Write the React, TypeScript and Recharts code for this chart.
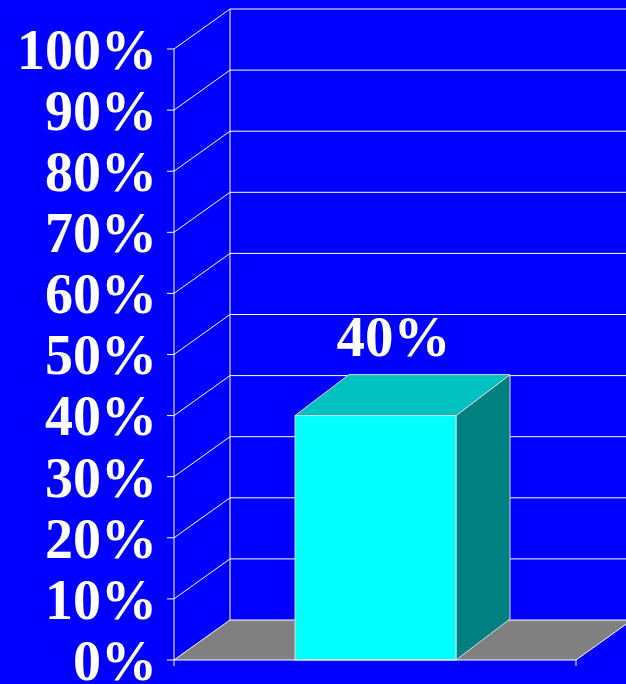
import React from 'react';
import { BarChart, Bar, XAxis, YAxis, CartesianGrid, LabelList } from 'recharts';

const categories = [''];
const shareValues = [40];
const yTicks = [0, 10, 20, 30, 40, 50, 60, 70, 80, 90, 100];

const data = categories.map((name, i) => ({ name, share: shareValues[i] }));

const BLUE = '#0000FF';
const LINE = '#FFFFFF';
const SERIF = '"Liberation Serif", "Times New Roman", serif';
const DX = 56;
const DY = -40;

const gridLine = (props: any) => {
  const { x1, y1, x2, y, height, index } = props;
  const bottom = y + height;
  const isFloor = Math.abs(y1 - bottom) < 1;
  return (
    <g key={`grid-${index}`}>
      {isFloor && (
        <polygon
          points={`${x1},${y1} ${x2},${y1} ${x2 + DX},${y1 + DY} ${x1 + DX},${y1 + DY}`}
          fill="#808080"
          stroke="none"
        />
      )}
      <line x1={x1} y1={y1} x2={x1 + DX} y2={y1 + DY} stroke={LINE} strokeWidth={1} />
      <line x1={x1 + DX} y1={y1 + DY} x2={640} y2={y1 + DY} stroke={LINE} strokeWidth={1} />
      {isFloor && (
        <>
          <line x1={x1 + DX} y1={y1 + DY} x2={x1 + DX} y2={y + DY} stroke={LINE} strokeWidth={1} />
          <line x1={x2} y1={y1} x2={x2 + DX} y2={y1 + DY} stroke={LINE} strokeWidth={1} />
          <line x1={x1} y1={y1} x2={x1} y2={y1 + 6} stroke={LINE} strokeWidth={1} />
          <line x1={x2} y1={y1} x2={x2} y2={y1 + 6} stroke={LINE} strokeWidth={1} />
        </>
      )}
    </g>
  );
};

const Bar3D = (props: any) => {
  const { x, y, width, height } = props;
  const bx = 54;
  const by = -41;
  const edge = '#D8D8D8';
  return (
    <g>
      <polygon
        points={`${x + width},${y} ${x + width + bx},${y + by} ${x + width + bx},${y + height + by} ${x + width},${y + height}`}
        fill="#008080"
        stroke={edge}
        strokeWidth={1}
      />
      <polygon
        points={`${x},${y} ${x + width},${y} ${x + width + bx},${y + by} ${x + bx},${y + by}`}
        fill="#00C0C0"
        stroke={edge}
        strokeWidth={1}
      />
      <rect x={x} y={y} width={width} height={height} fill="#00FFFF" stroke={edge} strokeWidth={1} />
    </g>
  );
};

const renderValue = (p: any) => (
  <text
    x={p.x + p.width / 2 + 18}
    y={p.y - 60}
    fill="#FFFFFF"
    fontSize={57}
    fontWeight="bold"
    fontFamily={SERIF}
    textAnchor="middle"
  >
    {p.value}%
  </text>
);

export default function App() {
  return (
    <div
      style={{
        position: 'absolute',
        left: 0,
        top: 0,
        width: 626,
        height: 684,
        background: BLUE,
        overflow: 'hidden',
      }}
    >
      <BarChart
        width={626}
        height={684}
        data={data}
        margin={{ top: 49, right: 50, bottom: 0, left: 0 }}
        barSize={161}
      >
        <CartesianGrid vertical={false} horizontal={gridLine} fill="none" />
        <XAxis
          dataKey="name"
          height={24}
          tick={false}
          tickLine={false}
          axisLine={{ stroke: LINE, strokeWidth: 1 }}
        />
        <YAxis
          width={174}
          domain={[0, 100]}
          ticks={yTicks}
          interval={0}
          tickFormatter={(v) => `${v}%`}
          stroke={LINE}
          tickSize={7}
          tickMargin={10}
          tick={{ fill: '#FFFFFF', fontSize: 56, fontWeight: 'bold', fontFamily: SERIF }}
        />
        <Bar dataKey="share" shape={Bar3D} isAnimationActive={false}>
          <LabelList dataKey="share" content={renderValue} />
        </Bar>
      </BarChart>
    </div>
  );
}
